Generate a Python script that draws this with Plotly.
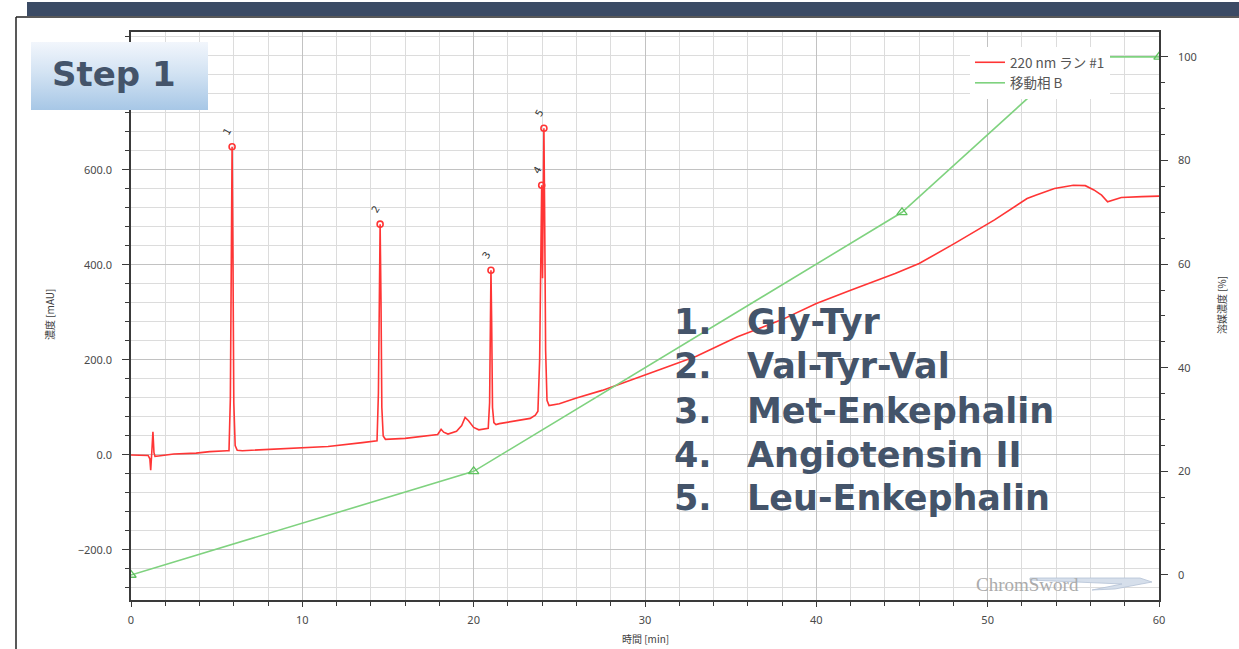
import base64
import plotly.graph_objects as go

# ---------------- data ----------------
time_min = [0, 0.5, 1.0, 1.1, 1.15, 1.22, 1.28, 1.34, 1.4, 1.6, 2.5, 3.8, 4.6, 5.6,
            5.72, 5.80, 5.85, 5.90, 5.95, 6.00, 6.08, 6.2, 6.5, 8.0, 9.7, 11.5, 13.5, 14.3,
            14.36, 14.44, 14.49, 14.54, 14.59, 14.64, 14.72, 14.85, 16.0, 17.4, 17.9, 18.1,
            18.25, 18.5, 19.0, 19.3, 19.5, 19.7, 20.0, 20.3, 20.6, 20.85, 20.93, 20.97, 21.01,
            21.05, 21.10, 21.18, 21.3, 21.5, 22.5, 23.3, 23.6, 23.75, 23.85, 23.92, 23.97,
            24.02, 24.06, 24.10, 24.14, 24.20, 24.28, 24.4, 25.0, 26.0, 27.5, 29.0, 30.8,
            33.0, 35.4, 38.0, 40.0, 42.0, 44.6, 46.0, 48.1, 50.4, 52.3, 52.8, 53.9, 55.0,
            55.7, 56.2, 56.65, 57.0, 57.3, 57.8, 59.0, 60.0]
absorbance = [0, 0, -1, -8, -32, 10, 49, 5, -3, -2, 2, 4, 7, 9,
              9, 120, 450, 649, 420, 110, 20, 10, 9, 12, 14, 18, 26, 29,
              30, 130, 380, 486, 330, 100, 40, 33, 35, 40, 43, 54,
              48, 44, 50, 62, 79, 72, 58, 53, 54, 56, 110, 300, 389,
              280, 100, 68, 64, 66, 72, 77, 84, 92, 200, 480, 568,
              372, 560, 688, 520, 220, 115, 104, 108, 120, 136, 155, 179,
              208, 249, 285, 319, 347, 382, 403, 446, 495, 540, 547, 561, 568,
              567, 558, 547, 533, 537, 542, 544, 545]

peak_time = [5.90, 14.54, 21.01, 23.97, 24.10]
peak_height = [649, 486, 389, 568, 688]
peak_label = ["1", "2", "3", "4", "5"]

grad_time = [0, 20, 45, 55, 60]
grad_B = [0, 20, 70, 100, 100]

compounds = ["Gly-Tyr", "Val-Tyr-Val", "Met-Enkephalin", "Angiotensin II", "Leu-Enkephalin"]

x_ticks = [0, 10, 20, 30, 40, 50, 60]
y_ticks = [-200, 0, 200, 400, 600]
y2_ticks = [0, 20, 40, 60, 80, 100]

# ---------------- geometry helpers (pixel -> paper) ----------------
W, H = 1239, 649
L, R, T, B = 131, 1159, 32, 600


def px(x):
    return (x - L) / (R - L)


def py(y):
    return (B - y) / (B - T)


RED = "#ff3535"
GREEN = "#7fd27f"
AXC = "#3a3a3a"
TICKF = dict(family="Noto Sans, Open Sans, sans-serif", size=11, color="#4a4a4a")
JPF = dict(family="Noto Sans CJK JP, sans-serif", size=10, color="#404040")
TXT = "#44546a"

fig = go.Figure()
fig.add_trace(go.Scatter(x=time_min, y=absorbance, mode="lines", name="220 nm ラン #1",
                         line=dict(color=RED, width=1.6), yaxis="y"))
fig.add_trace(go.Scatter(x=peak_time, y=peak_height, mode="markers", showlegend=False,
                         marker=dict(symbol="circle-open", size=6, color=RED, line=dict(width=1.6)),
                         yaxis="y"))
fig.add_trace(go.Scatter(x=grad_time, y=grad_B, mode="lines", name="移動相 B",
                         line=dict(color=GREEN, width=1.6), yaxis="y2"))
fig.add_trace(go.Scatter(x=grad_time, y=grad_B, mode="markers", showlegend=False,
                         marker=dict(symbol="triangle-up-open", size=9, color="#5fc25f",
                                     line=dict(width=1.3)), yaxis="y2"))

annotations = []
# peak labels
for t, h, lab in zip(peak_time, peak_height, peak_label):
    annotations.append(dict(x=t, y=h, xref="x", yref="y", text=lab, showarrow=False,
                            textangle=-60, xshift=-5, yshift=15,
                            font=dict(family="DejaVu Sans", size=10, color="#333")))
# axis titles
annotations.append(dict(x=px(50), y=py(315), xref="paper", yref="paper", text="濃度 [mAU]",
                        textangle=-90, showarrow=False, xanchor="center", yanchor="middle",
                        font=JPF))
annotations.append(dict(x=px(1221), y=py(305), xref="paper", yref="paper", text="溶媒濃度 [%]",
                        textangle=-90, showarrow=False, xanchor="center", yanchor="middle",
                        font=JPF))
annotations.append(dict(x=px(645), y=py(638), xref="paper", yref="paper", text="時間 [min]",
                        showarrow=False, xanchor="center", yanchor="middle", font=JPF))
# Step 1
annotations.append(dict(x=px(114), y=py(74), xref="paper", yref="paper", text="<b>Step 1</b>",
                        showarrow=False, xanchor="center", yanchor="middle",
                        font=dict(family="DejaVu Sans", size=34, color=TXT)))
# compound list
row_y = [322, 366, 411, 455, 498]
for i, name in enumerate(compounds):
    annotations.append(dict(x=px(672), y=py(row_y[i]), xref="paper", yref="paper",
                            text=f"<b>{i + 1}.</b>", showarrow=False, xanchor="left",
                            yanchor="middle", font=dict(family="DejaVu Sans", size=35, color=TXT)))
    annotations.append(dict(x=px(745), y=py(row_y[i]), xref="paper", yref="paper",
                            text=f"<b>{name}</b>", showarrow=False, xanchor="left",
                            yanchor="middle", font=dict(family="DejaVu Sans", size=35, color=TXT)))
# ChromSword logo text
annotations.append(dict(x=px(1027), y=py(584), xref="paper", yref="paper", text="ChromSword",
                        showarrow=False, xanchor="center", yanchor="middle",
                        font=dict(family="Liberation Serif, serif", size=19, color="#ababab")))

shapes = []
# navy header bar
shapes.append(dict(type="rect", xref="paper", yref="paper", x0=px(27), x1=px(1245),
                   y0=py(16), y1=py(2), fillcolor="#3b4b65", line=dict(width=0), layer="above"))
# card border
shapes.append(dict(type="line", xref="paper", yref="paper", x0=px(16), x1=px(1245),
                   y0=py(17), y1=py(17), line=dict(color="#222", width=1.5), layer="above"))
shapes.append(dict(type="line", xref="paper", yref="paper", x0=px(16), x1=px(16),
                   y0=py(17), y1=py(655), line=dict(color="#222", width=1.5), layer="above"))
# ChromSword swoosh
sw = [(1030, 578), (1140, 578), (1152, 582), (1115, 589), (1092, 590), (1122, 584), (1030, 580)]
path = "M " + " L ".join(f"{px(a):.5f},{py(b):.5f}" for a, b in sw) + " Z"
shapes.append(dict(type="path", xref="paper", yref="paper", path=path,
                   fillcolor="#d6dfeb", line=dict(color="#b4c2d6", width=0.8)))

# Step 1 gradient box via SVG image
svg = ('<svg xmlns="http://www.w3.org/2000/svg" width="177" height="68">'
       '<defs><linearGradient id="g" x1="0" y1="0" x2="0" y2="1">'
       '<stop offset="0" stop-color="#f2f6fc"/><stop offset="0.45" stop-color="#d3e3f3"/>'
       '<stop offset="1" stop-color="#a7c7e6"/></linearGradient></defs>'
       '<rect width="177" height="68" fill="url(#g)"/></svg>')
src = "data:image/svg+xml;base64," + base64.b64encode(svg.encode()).decode()
images = [dict(source=src, xref="paper", yref="paper", x=px(31), y=py(42),
               sizex=px(208) - px(31), sizey=py(42) - py(110), sizing="stretch",
               xanchor="left", yanchor="top", layer="above")]

fig.update_layout(
    width=W, height=H,
    margin=dict(l=L, r=W - R, t=T, b=H - B),
    paper_bgcolor="white", plot_bgcolor="white",
    showlegend=True,
    legend=dict(x=px(970), y=py(47), xanchor="left", yanchor="top",
                bgcolor="white", borderwidth=0,
                font=dict(family="Noto Sans CJK JP, sans-serif", size=13.5, color="#555"),
                itemwidth=30, tracegroupgap=0),
    xaxis=dict(range=[0, 60], tickvals=x_ticks, showline=True, linecolor=AXC, linewidth=1.5,
               mirror=True, ticks="outside", ticklen=5, tickcolor=AXC, tickfont=TICKF,
               ticklabelstandoff=4,
               showgrid=True, gridcolor="#c2c2c2", gridwidth=1, zeroline=False,
               minor=dict(dtick=2, ticks="outside", ticklen=4, tickcolor=AXC,
                          showgrid=True, gridcolor="#dcdcdc", gridwidth=1)),
    yaxis=dict(range=[-305.3, 890.5], tickvals=y_ticks, tickformat=".1f", showline=True,
               linecolor=AXC, linewidth=1.5, ticks="outside", ticklen=7, tickcolor=AXC,
               tickfont=TICKF, ticklabelstandoff=8,
               showgrid=True, gridcolor="#c2c2c2", gridwidth=1, zeroline=False,
               minor=dict(dtick=40, tick0=0, ticks="outside", ticklen=4, tickcolor=AXC,
                          showgrid=True, gridcolor="#dcdcdc", gridwidth=1)),
    yaxis2=dict(range=[-4.83, 104.8], tickvals=y2_ticks, overlaying="y", side="right",
                anchor="x", showline=True, linecolor=AXC, linewidth=1.5, ticks="outside",
                ticklen=7, tickcolor=AXC, tickfont=TICKF, ticklabelstandoff=8,
                showgrid=False, zeroline=False,
                minor=dict(dtick=5, tick0=0, ticks="outside", ticklen=4, tickcolor=AXC)),
    annotations=annotations,
    shapes=shapes,
    images=images,
)

fig.write_html("out.html")
